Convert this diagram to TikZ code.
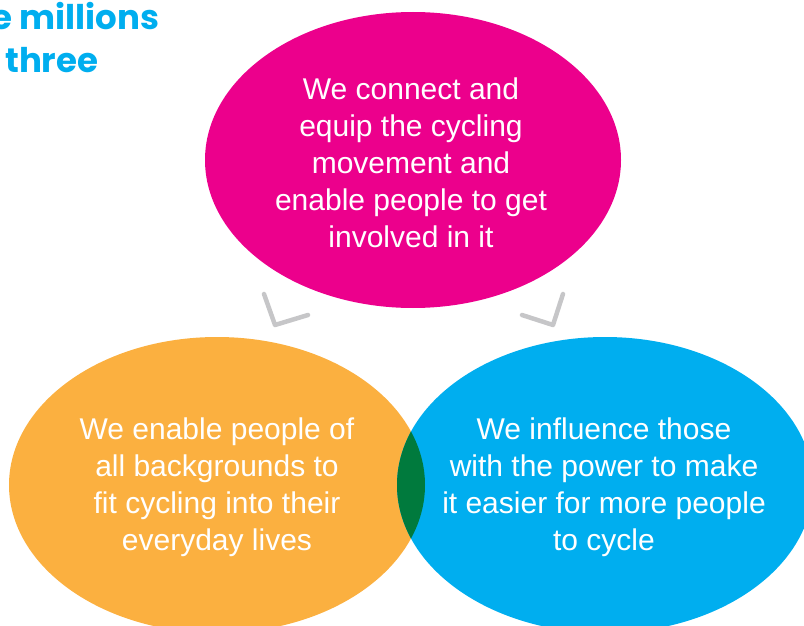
\documentclass[tikz,border=0pt]{standalone}
\usepackage{fontspec}
\setmainfont{Liberation Sans}
\newfontfamily\headfont{Poppins}
\usetikzlibrary{shapes.geometric}

\definecolor{cpink}{HTML}{EC008C}
\definecolor{corange}{HTML}{FBB040}
\definecolor{cblue}{HTML}{00AEEF}
\definecolor{cgreen}{HTML}{007A3D}
\definecolor{cgrey}{HTML}{C6C6C8}

\begin{document}
\begin{tikzpicture}[x=1pt,y=-1pt,
  bubble/.style={ellipse,minimum width=416pt,minimum height=296pt,inner sep=0pt},
  blurb/.style={text=white,align=center,font=\fontsize{30}{37}\selectfont},
  heading/.style={anchor=base west,text=cblue,inner sep=0pt,font=\headfont\bfseries\fontsize{34}{40}\selectfont},
  chevron/.style={draw=cgrey,line width=4.5pt,line cap=round,line join=round}]
\useasboundingbox (0,0) rectangle (804,626);
\clip (0,0) rectangle (804,626);

\node[heading] (line1) at (-9,30) {e millions};
\node[heading] (line2) at (5,73) {three};

\node[bubble,fill=cpink] (connect) at (413,160) {};
\node[bubble,fill=corange] (enable) at (217,485) {};
\node[bubble,fill=cblue] (influence) at (605,485) {};
\begin{scope}
\clip (enable.center) ellipse [x radius=208,y radius=148];
\fill[cgreen] (influence.center) ellipse [x radius=208,y radius=148];
\end{scope}

\node[blurb] (connecttext) at (411,163) {We connect and\\equip the cycling\\movement and\\enable people to get\\involved in it};
\node[blurb] (enabletext) at (217,487) {We enable people of\\all backgrounds to\\fit cycling into their\\everyday lives};
\node[blurb] (influencetext) at (604,487) {We influence those\\with the power to make\\it easier for more people\\to cycle};

\draw[chevron] (264,294) -- (275,325) -- (308,315);
\draw[chevron] (563,294) -- (553,325) -- (522,315);
\end{tikzpicture}
\end{document}
